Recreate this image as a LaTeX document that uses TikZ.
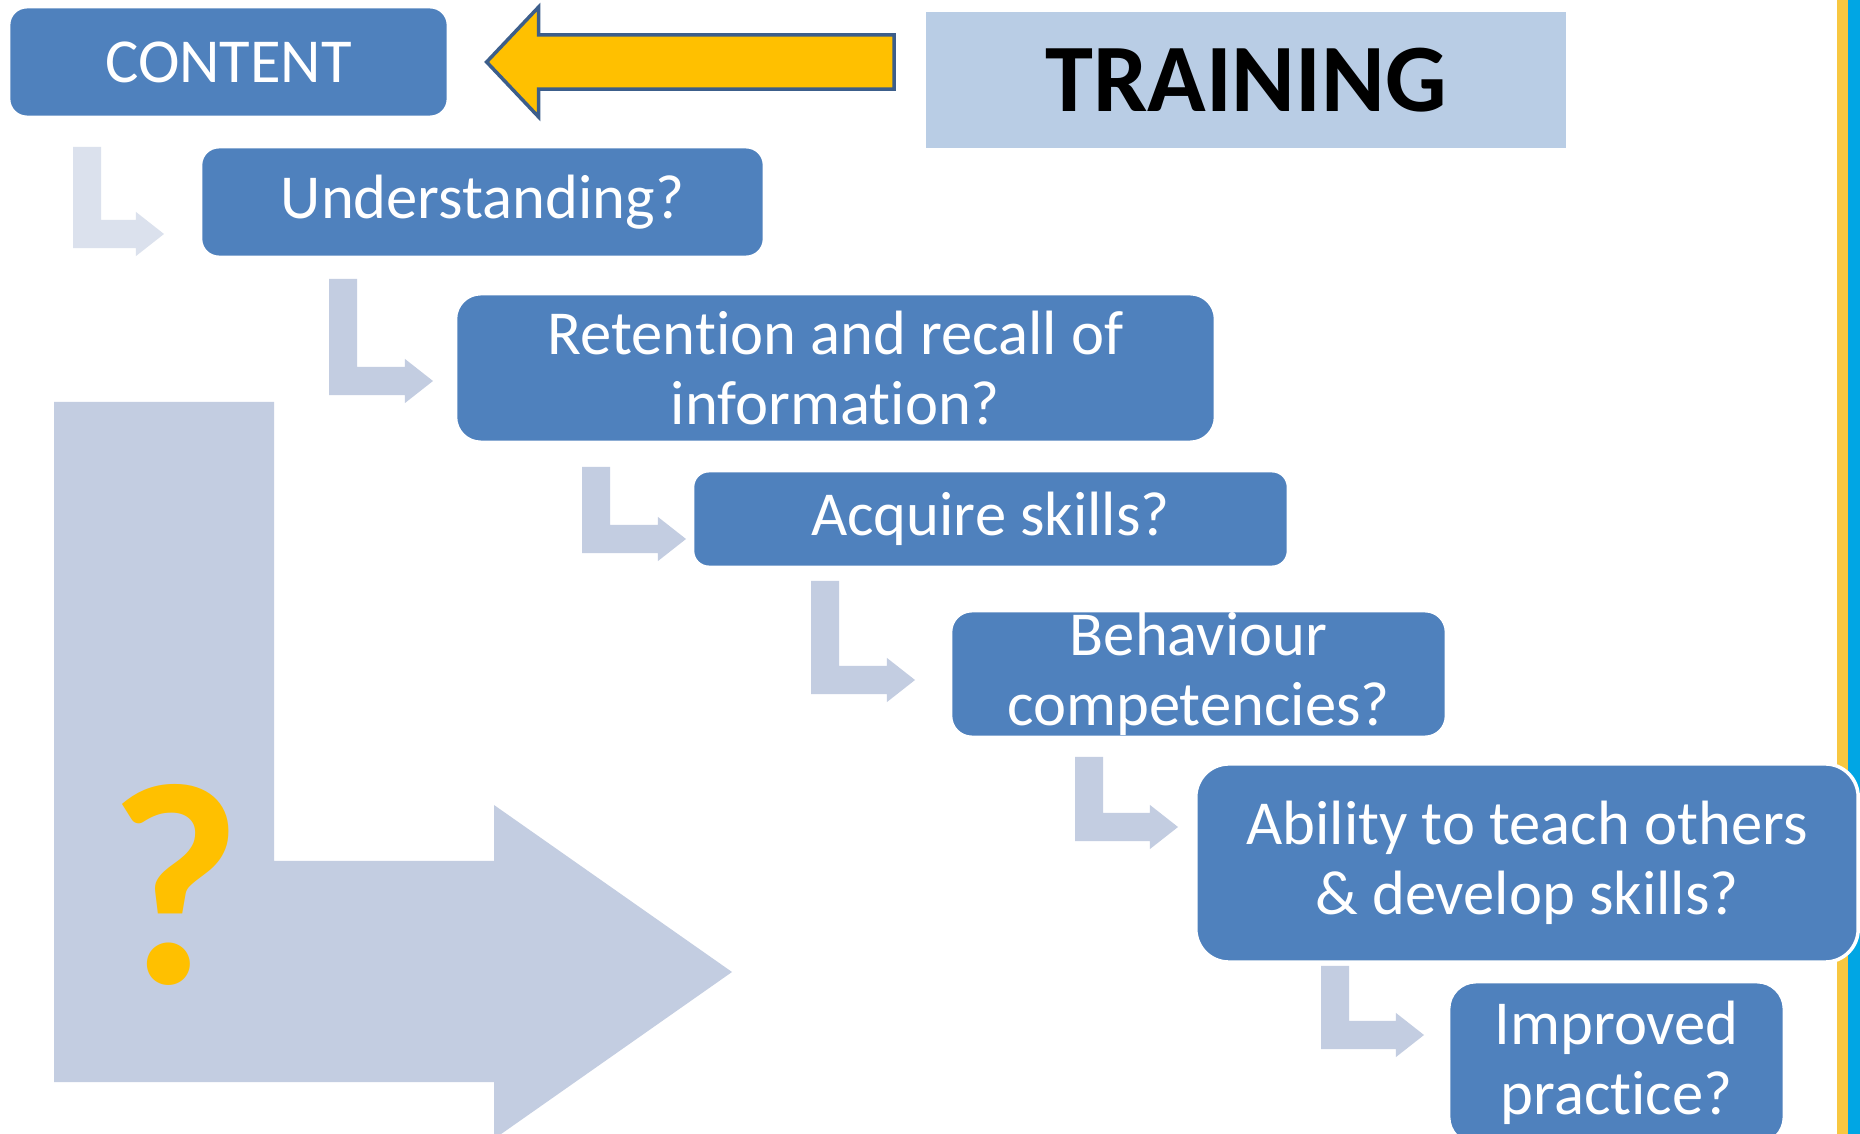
\documentclass[tikz,border=0pt]{standalone}
\usepackage{fontspec}
\setmainfont[Ligatures={NoCommon,NoRare,NoContextual}]{Carlito}
\usepackage{xcolor}
\usepackage{tikz}
\usetikzlibrary{calc}

\definecolor{boxblue}{HTML}{4F81BD}
\definecolor{paleblue}{HTML}{C3CDE1}
\definecolor{trainblue}{HTML}{B9CDE5}
\definecolor{amber}{HTML}{FFC000}
\definecolor{navyedge}{HTML}{3C5E8B}
\definecolor{stripeyellow}{HTML}{F8C740}
\definecolor{stripeblue}{HTML}{00A6E4}

% bent block arrow: #2 = top left of the upright bar, #3 = tip
\newcommand\bentarrow[3][paleblue]{%
  \fill[#1] let \p1=(#2), \p2=(#3) in
    (\p1) -- ({\x1+0.28cm},\y1) -- ({\x1+0.28cm},{\y2+0.14cm})
    -- ({\x2-0.28cm},{\y2+0.14cm}) -- ({\x2-0.28cm},{\y2+0.22cm})
    -- (\p2) -- ({\x2-0.28cm},{\y2-0.22cm}) -- ({\x2-0.28cm},{\y2-0.14cm})
    -- (\x1,{\y2-0.14cm}) -- cycle;}

\begin{document}
\begin{tikzpicture}[x=0.01cm,y=-0.01cm,
  stage/.style={fill=boxblue,draw=white,line width=0.03cm,text=white,
    align=center,inner sep=0pt,font=\fontsize{17.8}{19.9}\selectfont}]
\clip (0,0) rectangle (1860,1134);
\fill[white] (0,0) rectangle (1860,1134);

% side stripes
\fill[stripeyellow] (1837,0) rectangle (1848,1134);
\fill[stripeblue] (1848,0) rectangle (1860,1134);

% big L arrow
\fill[paleblue] (54,402) -- (274,402) -- (274,861) -- (494,861) -- (494,805)
  -- (732,972) -- (494,1139) -- (494,1082) -- (54,1082) -- cycle;
\node (qmark) at (175,885) [text=amber,font=\fontsize{82}{84}\selectfont\bfseries] {?};

\path (228.5,62) node(content) [stage,minimum width=4.39cm,minimum height=1.1cm,rounded corners=0.18cm] {CONTENT}
  (1246,80) node(training) [fill=trainblue,minimum width=6.4cm,minimum height=1.36cm,inner sep=0pt,
     font=\fontsize{27.5}{30}\selectfont\bfseries] {TRAINING}
  (482.5,202) node(under) [stage,minimum width=5.63cm,minimum height=1.1cm,rounded corners=0.18cm] {Understanding?}
  (835.5,368) node(recall) [stage,minimum width=7.59cm,minimum height=1.48cm,rounded corners=0.25cm] {Retention and recall of\\information?}
  (990.5,519) node(skills) [stage,minimum width=5.95cm,minimum height=0.96cm,rounded corners=0.16cm] {Acquire skills?}
  (1198.5,674) node(behave) [stage,minimum width=4.95cm,minimum height=1.26cm,rounded corners=0.21cm] {Behaviour\\competencies?}
  (1527,863) node(teach) [stage,line width=0.035cm,minimum width=6.62cm,minimum height=1.98cm,rounded corners=0.33cm] {Ability to teach others\\\& develop skills?}
  (1616.5,1063) node(practice) [stage,minimum width=3.35cm,minimum height=1.62cm,rounded corners=0.27cm] {Improved\\practice?};

% yellow arrow from TRAINING to CONTENT
\filldraw[fill=amber,draw=navyedge,line width=0.035cm]
  let \p1=(training.west), \p2=(content.east) in
  ({\x1-0.31cm},{\y2+0.27cm}) -- ({\x2+0.89cm},{\y2+0.27cm}) -- ({\x2+0.89cm},{\y2+0.55cm})
  -- ({\x2+0.37cm},\y2) -- ({\x2+0.89cm},{\y2-0.55cm}) -- ({\x2+0.89cm},{\y2-0.27cm})
  -- ({\x1-0.31cm},{\y2-0.27cm}) -- cycle;

% steps
\coordinate (s1) at (73,147);   \coordinate (t1) at (164,234);
\coordinate (s2) at (329,279);  \coordinate (t2) at (433,381);
\coordinate (s3) at (582,467);  \coordinate (t3) at (686,539);
\coordinate (s4) at (811,581);  \coordinate (t4) at (915,680);
\coordinate (s5) at (1075,757); \coordinate (t5) at (1178,827);
\coordinate (s6) at (1321,966); \coordinate (t6) at (1424,1035);
\bentarrow[paleblue!60]{s1}{t1}
\bentarrow{s2}{t2}
\bentarrow{s3}{t3}
\bentarrow{s4}{t4}
\bentarrow{s5}{t5}
\bentarrow{s6}{t6}
\end{tikzpicture}
\end{document}
